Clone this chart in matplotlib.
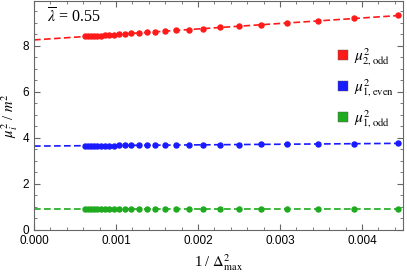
import numpy as np
import matplotlib
matplotlib.use("Agg")
import matplotlib.pyplot as plt
from matplotlib.ticker import MultipleLocator

plt.rcParams['font.family'] = ['Liberation Serif', 'DejaVu Serif']
plt.rcParams['mathtext.fontset'] = 'stix'

# 1/Delta_max^2 values (Delta = 15 ... 40)
x = [0.004444, 0.003906, 0.003460, 0.003086, 0.002770, 0.002500, 0.002268,
     0.002066, 0.001890, 0.001736, 0.001600, 0.001479, 0.001372, 0.001276,
     0.001189, 0.001111, 0.001041, 0.000977, 0.000918, 0.000865, 0.000816,
     0.000772, 0.000730, 0.000693, 0.000657, 0.000625]

mu2_odd = [9.32, 9.19, 9.08, 8.99, 8.92, 8.86, 8.80, 8.75, 8.71, 8.67, 8.64,
           8.61, 8.59, 8.56, 8.54, 8.52, 8.51, 8.49, 8.48, 8.47, 8.45, 8.44,
           8.43, 8.42, 8.42, 8.41]
mu1_even = [3.76, 3.75, 3.74, 3.73, 3.72, 3.71, 3.71, 3.70, 3.70, 3.69, 3.69,
            3.69, 3.68, 3.68, 3.68, 3.68, 3.68, 3.67, 3.67, 3.67, 3.67, 3.67,
            3.66, 3.66, 3.66, 3.66]
mu1_odd = [0.91, 0.91, 0.91, 0.91, 0.91, 0.91, 0.91, 0.91, 0.91, 0.91, 0.91,
           0.91, 0.91, 0.91, 0.91, 0.91, 0.91, 0.91, 0.91, 0.91, 0.91, 0.91,
           0.91, 0.91, 0.91, 0.91]

series = [(mu2_odd, '#ff1a1a', r'$\mu^2_{2,\mathrm{odd}}$'),
          (mu1_even, '#1a1aff', r'$\mu^2_{1,\mathrm{even}}$'),
          (mu1_odd, '#1faa1f', r'$\mu^2_{1,\mathrm{odd}}$')]

fig = plt.figure(figsize=(4.07, 2.73), dpi=100)
ax = fig.add_axes([34/407, 43/273, 369/407, 229/273])

xs = np.array(x)
xfit = np.linspace(0, 0.0045, 50)
for ys, c, lab in series:
    k, b = np.polyfit(xs, ys, 1)
    ax.plot(xfit, k*xfit + b, '--', color=c, lw=1.2, dashes=(4, 2))
    ax.plot(xs, ys, 'o', color=c, ms=3.6, mec=c)
    ax.plot([], [], 's', color=c, ms=7, mec='#555555', mew=0.3, label=lab)

ax.set_xlim(0, 0.0045)
ax.set_ylim(0, 9.95)
ax.xaxis.set_major_locator(MultipleLocator(0.001))
ax.xaxis.set_minor_locator(MultipleLocator(0.0002))
ax.yaxis.set_major_locator(MultipleLocator(2))
ax.yaxis.set_minor_locator(MultipleLocator(0.5))
ax.xaxis.set_major_formatter(plt.FormatStrFormatter('%.3f'))
ax.tick_params(which='both', direction='in', top=True, right=True,
               color='#666666', labelsize=8.5, labelfontfamily='Liberation Sans')
ax.tick_params(which='major', length=4)
ax.tick_params(which='minor', length=2)
for s in ax.spines.values():
    s.set_color('#666666')

ax.set_xlabel(r'1 / $\Delta^2_{\mathrm{max}}$', fontsize=10.5, labelpad=4)
ax.set_ylabel(r'$\mu_i^2$ / $m^2$', fontsize=10.5, labelpad=2)
ax.text(0.035, 0.905, r'$\overline{\lambda}$ = 0.55', fontsize=11.5,
        transform=ax.transAxes, va='baseline')

ax.legend(loc='upper right', bbox_to_anchor=(1.0, 0.84), frameon=False,
          fontsize=11, handlelength=0.8, handletextpad=0.3, labelspacing=0.6,
          borderaxespad=0.2)

fig.savefig('out.png', dpi=100)
